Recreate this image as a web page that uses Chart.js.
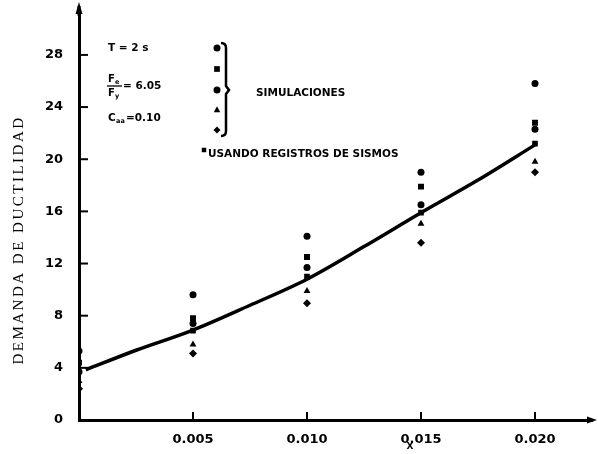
<!DOCTYPE html>
<html><head><meta charset="utf-8">
<script src="https://cdn.jsdelivr.net/npm/chart.js@4.4.1/dist/chart.umd.min.js"></script>
<style>html,body{margin:0;padding:0;background:#fff}#wrap{width:598px;height:454px}</style>
</head><body><div id="wrap"><canvas id="c" width="598" height="454"></canvas></div>
<script>
// ---- data ----
const xValues      = [0, 0.005, 0.010, 0.015, 0.020];
const simCircleTop = [5.3, 9.6, 14.1, 19.0, 25.8];
const simSquare    = [4.4, 7.8, 12.5, 17.9, 22.8];
const simCircle    = [3.7, 7.4, 11.7, 16.5, 22.3];
const simTriangle  = [3.0, 5.8, 9.9, 15.05, 19.8];
const simDiamond   = [2.4, 5.1, 8.95, 13.6, 19.0];
const regX         = [0.005, 0.010, 0.015, 0.020];
const regValues    = [6.85, 11.0, 15.9, 21.2];
const curveX       = [0.0003, 0.0025, 0.005, 0.0075, 0.010, 0.0125, 0.015, 0.0175, 0.020];
const curveY       = [3.85, 5.35, 6.9, 8.8, 10.8, 13.3, 15.9, 18.4, 21.1];
const xTickValues  = [0.005, 0.010, 0.015, 0.020];
const yTickValues  = [0, 4, 8, 12, 16, 20, 24, 28];
const yAxisTitle   = 'DEMANDA DE DUCTILIDAD';
const xAxisTitle   = 'X';
const simLabel     = 'SIMULACIONES';
const regLabel     = 'USANDO REGISTROS DE SISMOS';

const pts = (xs, ys) => xs.map((x, i) => ({x, y: ys[i]}));
const tickFont = {family: 'DejaVu Sans', size: 13, weight: 'bold'};
const annFont = 'bold 10.5px "DejaVu Sans"';

function drawShape(ctx, style, x, y, r) {
  ctx.beginPath();
  if (style === 'circle') { ctx.arc(x, y, r, 0, Math.PI * 2); }
  else if (style === 'rect') { const s = r * 0.75; ctx.rect(x - s, y - s, 2 * s, 2 * s); }
  else if (style === 'triangle') { ctx.moveTo(x, y - r); ctx.lineTo(x + r * 0.85, y + r * 0.6); ctx.lineTo(x - r * 0.85, y + r * 0.6); ctx.closePath(); }
  else if (style === 'rectRot') { ctx.moveTo(x, y - r); ctx.lineTo(x + r, y); ctx.lineTo(x, y + r); ctx.lineTo(x - r, y); ctx.closePath(); }
  ctx.fill();
}

const decor = {
  id: 'decor',
  afterDraw(chart) {
    const ctx = chart.ctx, a = chart.chartArea;
    const xs = chart.scales.x, ys = chart.scales.y;
    ctx.save();
    ctx.fillStyle = '#000'; ctx.strokeStyle = '#000';
    // inward tick marks
    ctx.lineWidth = 2;
    yTickValues.forEach(v => {
      if (v === 0) return;
      const y = ys.getPixelForValue(v);
      ctx.beginPath(); ctx.moveTo(a.left, y); ctx.lineTo(a.left + 9, y); ctx.stroke();
    });
    xTickValues.forEach(v => {
      const x = xs.getPixelForValue(v);
      ctx.beginPath(); ctx.moveTo(x, a.bottom); ctx.lineTo(x, a.bottom - 8); ctx.stroke();
    });
    // axis extensions + arrows
    ctx.lineWidth = 3;
    ctx.beginPath(); ctx.moveTo(a.left, a.top); ctx.lineTo(a.left, 6); ctx.stroke();
    ctx.beginPath(); ctx.moveTo(a.left - 3.5, 14); ctx.lineTo(a.left + 3.5, 14); ctx.lineTo(a.left, 2); ctx.closePath(); ctx.fill();
    ctx.beginPath(); ctx.moveTo(a.right, a.bottom); ctx.lineTo(590, a.bottom); ctx.stroke();
    ctx.beginPath(); ctx.moveTo(587, a.bottom - 3.5); ctx.lineTo(587, a.bottom + 3.5); ctx.lineTo(597, a.bottom); ctx.closePath(); ctx.fill();

    // y axis title
    ctx.save();
    ctx.translate(19, 240);
    ctx.rotate(-Math.PI / 2);
    ctx.font = '15px "Liberation Serif"';
    ctx.letterSpacing = '2.5px';
    ctx.textAlign = 'center'; ctx.textBaseline = 'middle';
    ctx.fillText(yAxisTitle, 0, 0);
    ctx.restore();

    // x axis title
    ctx.font = 'bold 9px "DejaVu Sans"';
    ctx.textAlign = 'center'; ctx.textBaseline = 'middle';
    ctx.fillText(xAxisTitle, 410, 447);

    // parameters
    ctx.font = annFont;
    ctx.textAlign = 'left'; ctx.textBaseline = 'middle';
    ctx.fillText('T = 2 s', 108, 48);
    ctx.font = 'bold 10px "DejaVu Sans"';
    ctx.fillText('F', 108, 79); ctx.font = 'bold 6.5px "DejaVu Sans"'; ctx.fillText('e', 115, 82);
    ctx.font = 'bold 10px "DejaVu Sans"';
    ctx.fillText('F', 108, 93); ctx.font = 'bold 6.5px "DejaVu Sans"'; ctx.fillText('y', 115, 96);
    ctx.lineWidth = 1.3; ctx.beginPath(); ctx.moveTo(107, 86); ctx.lineTo(122, 86); ctx.stroke();
    ctx.font = annFont;
    ctx.fillText('= 6.05', 123, 86);
    ctx.fillText('C', 108, 118);
    ctx.font = 'bold 6.5px "DejaVu Sans"'; ctx.fillText('aa', 116, 121);
    ctx.font = annFont; ctx.fillText('=0.10', 126, 118);

    // legend markers + bracket
    const lx = 217;
    [['circle', 48, 3.5], ['rect', 69, 3.8], ['circle', 90, 3.5], ['triangle', 110, 3.8], ['rectRot', 130, 3.5]]
      .forEach(([s, y, r]) => drawShape(ctx, s, lx, y, r));
    ctx.lineWidth = 2.5;
    ctx.beginPath();
    ctx.moveTo(221, 43); ctx.quadraticCurveTo(226, 43, 226, 48);
    ctx.lineTo(226, 86); ctx.lineTo(229, 90); ctx.lineTo(226, 94);
    ctx.lineTo(226, 131); ctx.quadraticCurveTo(226, 136, 221, 136);
    ctx.stroke();
    ctx.font = annFont;
    ctx.fillText(simLabel, 256, 93);
    drawShape(ctx, 'rect', 204, 150, 3);
    ctx.fillText(regLabel, 208, 154);
    ctx.restore();
  }
};

const common = {type: 'scatter', showLine: false, backgroundColor: '#000', borderColor: '#000', borderWidth: 0};

new Chart(document.getElementById('c'), {
  type: 'scatter',
  data: {
    datasets: [
      {type: 'line', data: pts(curveX, curveY), borderColor: '#000', borderWidth: 3.5, pointRadius: 0, tension: 0.35, fill: false, cubicInterpolationMode: 'monotone'},
      {...common, data: pts(xValues, simCircleTop), pointStyle: 'circle', pointRadius: 3.5},
      {...common, data: pts(xValues, simSquare), pointStyle: 'rect', pointRadius: 4.2},
      {...common, data: pts(xValues, simCircle), pointStyle: 'circle', pointRadius: 3.5},
      {...common, data: pts(xValues, simTriangle), pointStyle: 'triangle', pointRadius: 4},
      {...common, data: pts(xValues, simDiamond), pointStyle: 'rectRot', pointRadius: 4},
      {...common, data: pts(regX, regValues), pointStyle: 'rect', pointRadius: 4}
    ]
  },
  options: {
    responsive: false, animation: false, devicePixelRatio: 1,
    layout: {padding: {left: 0, top: 8, right: 6, bottom: 0}},
    plugins: {legend: {display: false}, tooltip: {enabled: false}},
    scales: {
      x: {
        type: 'linear', min: 0, max: 0.0225,
        afterBuildTicks: s => { s.ticks = xTickValues.map(v => ({value: v})); },
        afterFit: s => { s.height = 34; },
        grid: {display: false},
        border: {display: true, width: 3, color: '#000'},
        ticks: {font: tickFont, color: '#000', padding: 4, maxRotation: 0, autoSkip: false, callback: v => Number(v).toFixed(3)}
      },
      y: {
        type: 'linear', min: 0, max: 31,
        afterBuildTicks: s => { s.ticks = yTickValues.map(v => ({value: v})); },
        afterFit: s => { s.width = 79; },
        grid: {display: false},
        border: {display: true, width: 3, color: '#000'},
        ticks: {font: tickFont, color: '#000', padding: 8, autoSkip: false, callback: v => String(v)}
      }
    }
  },
  plugins: [decor]
});
</script></body></html>
